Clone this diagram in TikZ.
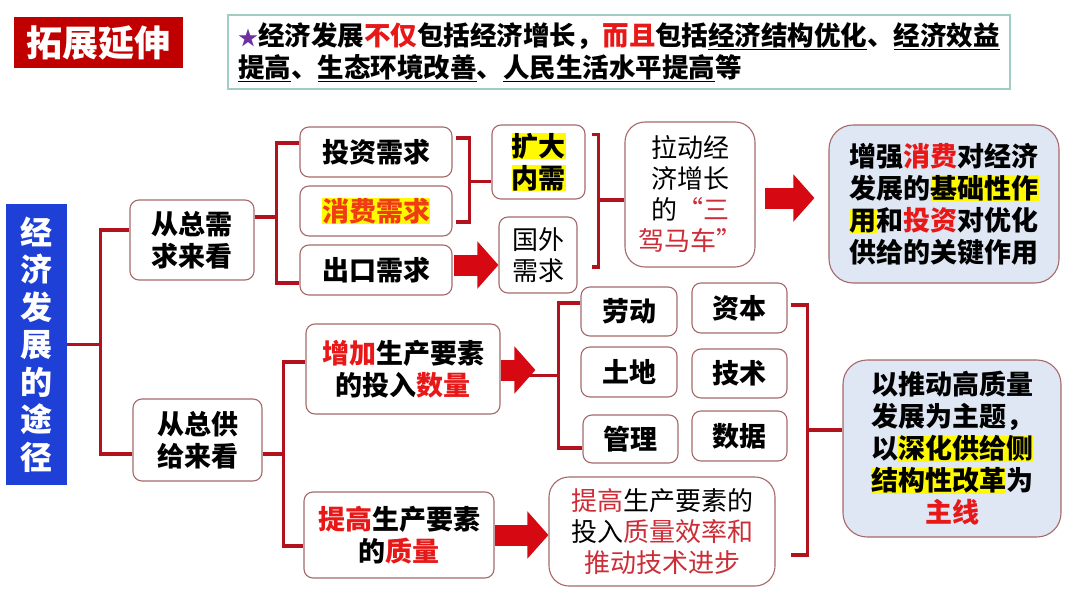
\documentclass[tikz,border=0pt]{standalone}
\usepackage{fontspec}
\setmainfont{Noto Sans CJK SC}
\usetikzlibrary{arrows.meta,calc}
\definecolor{linkred}{RGB}{178,18,30}
\definecolor{boxline}{RGB}{165,105,105}
\definecolor{titlered}{RGB}{192,0,0}
\definecolor{noteline}{RGB}{160,205,195}
\definecolor{wayblue}{RGB}{30,64,215}
\definecolor{keyred}{RGB}{232,24,24}
\definecolor{conorange}{RGB}{240,60,20}
\definecolor{softred}{RGB}{205,45,55}
\definecolor{hlyellow}{RGB}{255,250,0}
\definecolor{goalfill}{RGB}{222,231,243}
\definecolor{arrowred}{RGB}{214,8,18}
\definecolor{starpurple}{RGB}{112,48,160}
\newcommand{\hly}[1]{{\setlength{\fboxsep}{0pt}\colorbox{hlyellow}{#1}}}
\newcommand{\kr}[1]{\textcolor{keyred}{#1}}
\newcommand{\sr}[1]{\textcolor{softred}{#1}}

\begin{document}
\begin{tikzpicture}[x=1pt,y=-1pt,
  box/.style={draw=boxline,line width=1.1pt,rounded corners=9pt,fill=white,align=center,inner sep=0pt},
  bbox/.style={box,font=\fontsize{27pt}{32pt}\selectfont\bfseries},
  tbox/.style={box,font=\fontsize{26pt}{31pt}\selectfont},
  goal/.style={box,rounded corners=24pt,fill=goalfill,font=\fontsize{27pt}{32pt}\selectfont\bfseries},
  sz/.style 2 args={minimum width=#1pt,minimum height=#2pt},
  link/.style={draw=linkred,line width=3.2pt},
  fat/.style={draw=arrowred,line width=21pt,-{Triangle[length=21pt,width=46pt]}}]
  \useasboundingbox (0,0) rectangle (1080,608);
  %标题
  \node[fill=titlered,text=white,font=\fontsize{36pt}{40pt}\selectfont\bfseries,sz={169}{51},inner sep=0pt] (title) at (98.5,42.5) {拓展延伸};
  %说明
  \node[draw=noteline,line width=1.2pt,align=left,sz={782}{74},inner sep=0pt,font=\fontsize{26.5pt}{32pt}\selectfont\bfseries] (note) at (619,52) {{\fontsize{20pt}{20pt}\selectfont\textcolor{starpurple}{★}}经济发展\kr{不仅}包括经济增长，\kr{而且}包括\underline{经济结构优化}、\underline{经济效益}\\\underline{提高}、\underline{生态环境改善}、\underline{人民生活水平提高}等};
  %途径
  \node[fill=wayblue,text=white,align=center,inner sep=0pt,sz={61}{281},font=\fontsize{32pt}{37.5pt}\selectfont\bfseries] (way) at (36.5,344.5) {经\\济\\发\\展\\的\\途\\径};
  %需求侧
  \node[bbox,sz={124}{80}] (dem) at (192,240) {从总需\\求来看};
  \node[bbox,sz={152}{50}] (inv) at (376,152) {投资需求};
  \node[bbox,sz={152}{50}] (con) at (376,211) {\hly{\textcolor{conorange}{消费需求}}};
  \node[bbox,sz={152}{50}] (exp) at (376,270) {出口需求};
  \node[bbox,sz={93}{74}] (kd) at (538.5,162) {\hly{扩大}\\\hly{内需}};
  \node[tbox,sz={78}{76}] (gw) at (538,255) {国外\\需求};
  \node[tbox,rounded corners=20pt,sz={130}{145}] (ld) at (690,194.5) {拉动经\\济增长\\的\sr{“三}\\\sr{驾马车”}};
  \node[goal,sz={230}{158}] (g1) at (944,204) {增强\kr{消费}对经济\\发展的\hly{基础性作}\\\hly{用}和\kr{投资}对优化\\供给的关键作用};
  %供给侧
  \node[bbox,sz={129}{82}] (sup) at (197.5,440) {从总供\\给来看};
  \node[bbox,sz={194}{90}] (inc) at (403,369) {\kr{增加}生产要素\\的投入\kr{数量}};
  \node[bbox,sz={190}{86}] (qua) at (399,535) {\kr{提高}生产要素\\的\kr{质量}};
  \node[bbox,sz={96}{49}] (lab) at (629,311.5) {劳动};
  \node[bbox,sz={95}{50}] (cap) at (739.5,308) {资本};
  \node[bbox,sz={96}{50}] (land) at (629,372) {土地};
  \node[bbox,sz={95}{49}] (tech) at (739.5,373.5) {技术};
  \node[bbox,sz={95}{48}] (mgmt) at (630.5,439) {管理};
  \node[bbox,sz={95}{50}] (data) at (739.5,436) {数据};
  \node[tbox,rounded corners=20pt,sz={226}{109}] (eff) at (662,531.5) {\sr{提高}生产要素的\\投入\sr{质量效率和}\\\sr{推动技术进步}};
  \node[goal,sz={218}{177}] (g2) at (952,448.5) {以推动高质量\\发展为主题，\\以\hly{深化供给侧}\\\hly{结构性改革}为\\\kr{主线}};
  %连线
  \coordinate (j1) at ($(way.east)+(33,0)$);
  \draw[link] (way.east) -- (j1);
  \draw[link] ($(dem.west)+(0,-10)$) -| (j1) |- ($(sup.west)+(0,14)$);
  \coordinate (j2) at ($(dem.east)+(22,-23)$);
  \draw[link] ($(dem.east)+(0,-23)$) -- (j2);
  \draw[link] ($(inv.west)+(0,-9)$) -| (j2) |- ($(exp.west)+(0,13)$);
  \coordinate (b1) at ($(inv.east)!0.5!(con.east)+(17,0)$);
  \draw[link] ($(inv.east)+(3,-14)$) -| (b1) |- ($(con.east)+(3,11)$);
  \draw[link] (b1) -- (b1 -| kd.west);
  \coordinate (b2) at ($(ld.west)+(-26,5.5)$);
  \draw[link] ($(kd.north east)+(6,10)$) -| (b2) |- ($(gw.east)+(14,12)$);
  \draw[link] (b2) -- (b2 -| ld.west);
  \draw[fat] ($(exp.east)+(1,-5)$) -- ($(exp.east -| gw.west)+(0,-5)$);
  \draw[fat] ($(ld.east)+(9,3.5)$) -- ($(ld.east -| g1.west)+(-14,3.5)$);
  \coordinate (j3) at ($(sup.east)+(21,14)$);
  \draw[link] ($(sup.east)+(0,14)$) -- (j3);
  \draw[link] ($(inc.west)+(0,-7)$) -| (j3) |- ($(qua.west)+(0,11)$);
  \coordinate (b3) at ($(lab.west)!0.5!(mgmt.west)+(-23,0)$);
  \draw[link] ($(lab.west)+(0,-8.5)$) -| (b3) |- ($(mgmt.west)+(0,9)$);
  \draw[link] (b3) -- (b3 -| inc.east);
  \draw[fat,shorten >=23pt] ($(inc.east)+(0,1)$) -- ($(inc.east -| b3)+(0,1)$);
  \draw[fat] (qua.east) -- (qua.east -| eff.west);
  \coordinate (b4) at ($(g2.west)+(-35,-18.5)$);
  \draw[link] ($(cap.east)+(3,-3)$) -| (b4) |- ($(eff.east)+(15,23.5)$);
  \draw[link] (b4) -- (b4 -| g2.west);
\end{tikzpicture}
\end{document}
